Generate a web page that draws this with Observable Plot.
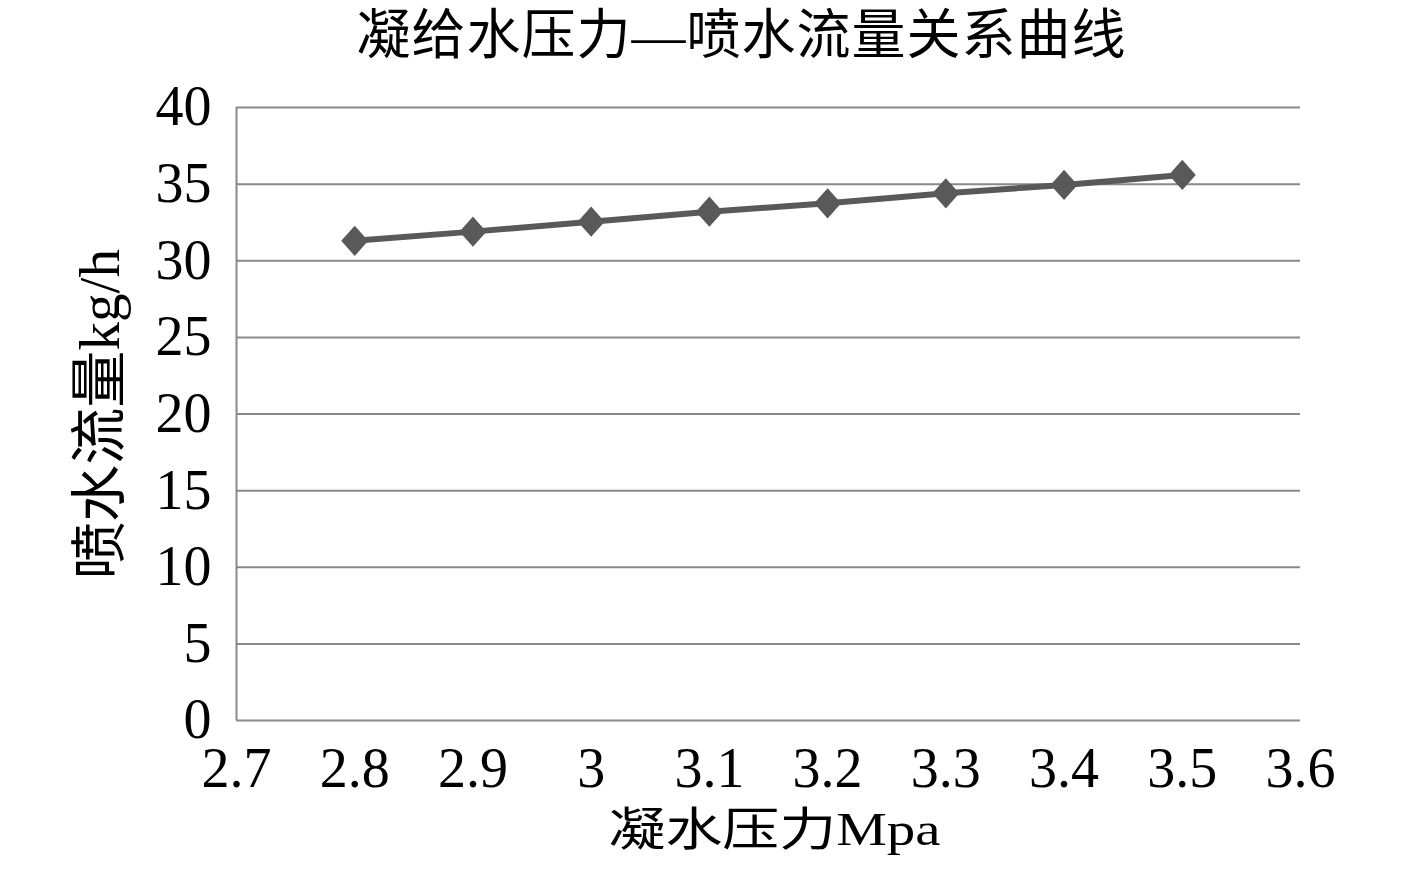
<!DOCTYPE html>
<html>
<head>
<meta charset="utf-8">
<script src="https://cdn.jsdelivr.net/npm/d3@7"></script>
<script src="https://cdn.jsdelivr.net/npm/@observablehq/plot@0.6"></script>
<style>
  html, body { margin: 0; padding: 0; background: #fff; }
  #wrap { position: relative; width: 1417px; height: 874px; overflow: hidden; }
  #title {
    position: absolute; left: 0; top: 2px; width: 1417px; height: 68px;
    box-sizing: border-box; padding-left: 66px;
    line-height: 68px; text-align: center; white-space: nowrap;
    font-family: "Liberation Serif", "Noto Sans CJK SC", serif; font-size: 54px; font-weight: 400;
    letter-spacing: 1px; color: #000;
  }
  #chart { position: absolute; left: 0; top: 70px; }
  #chart svg { display: block; }
</style>
</head>
<body>
<div id="wrap">
  <div id="title">凝给水压力—喷水流量关系曲线</div>
  <div id="chart"></div>
</div>
<script>
// Data
const pressure = [2.8, 2.9, 3.0, 3.1, 3.2, 3.3, 3.4, 3.5];          // 凝水压力 (Mpa)
const flow = [31.3, 31.9, 32.55, 33.2, 33.75, 34.4, 34.95, 35.6];  // 喷水流量 (kg/h)
const xTicks = [2.7, 2.8, 2.9, 3.0, 3.1, 3.2, 3.3, 3.4, 3.5, 3.6];
const xTickLabels = ["2.7", "2.8", "2.9", "3", "3.1", "3.2", "3.3", "3.4", "3.5", "3.6"];
const yTicks = [0, 5, 10, 15, 20, 25, 30, 35, 40];
const yTickLabels = ["0", "5", "10", "15", "20", "25", "30", "35", "40"];
const xLabel = "凝水压力Mpa";
const yLabel = "喷水流量kg/h";

const data = pressure.map((p, i) => ({p, f: flow[i]}));

const diamond = {
  draw(context, size) {
    const r = Math.sqrt(size / Math.PI);
    context.moveTo(0, -r * 1.12);
    context.lineTo(r, 0);
    context.lineTo(0, r * 1.12);
    context.lineTo(-r, 0);
    context.closePath();
  }
};

const gridColor = "#898989";
const ink = "#595959";

const plot = Plot.plot({
  width: 1417,
  height: 804,
  marginLeft: 236,
  marginRight: 117,
  marginTop: 37,
  marginBottom: 154,
  style: {
    fontFamily: "'Liberation Serif', 'Noto Sans CJK SC', serif",
    fontSize: "56px",
    color: "#000",
    background: "#fff",
    overflow: "visible"
  },
  x: {
    domain: [2.7, 3.6],
    ticks: xTicks,
    tickFormat: d => xTickLabels[xTicks.findIndex(t => Math.abs(t - d) < 1e-9)],
    tickSize: 0,
    tickPadding: 27,
    label: null
  },
  y: {
    domain: [0, 40],
    ticks: yTicks,
    tickFormat: d => yTickLabels[yTicks.indexOf(d)],
    tickSize: 0,
    tickPadding: 25,
    label: null
  },
  marks: [
    Plot.ruleY(yTicks, {stroke: gridColor, strokeWidth: 2}),
    Plot.ruleX([xTicks[0]], {stroke: gridColor, strokeWidth: 2}),
    Plot.line(data, {x: "p", y: "f", stroke: ink, strokeWidth: 6}),
    Plot.dot(data, {x: "p", y: "f", symbol: diamond, r: 13.5, fill: ink, stroke: "none"}),
    Plot.text([xLabel], {frameAnchor: "bottom", textAnchor: "middle", dx: 6, dy: 124, fontSize: 46, fill: "#000"}),
    Plot.text([yLabel], {frameAnchor: "left", textAnchor: "middle", dx: -136, rotate: -90, fontSize: 57, fill: "#000"})
  ]
});

// stretch the axis titles to the lengths seen in the reference
plot.querySelectorAll("text").forEach(t => {
  if (t.textContent === xLabel) {
    t.setAttribute("textLength", 332);
    t.setAttribute("lengthAdjust", "spacingAndGlyphs");
  } else if (t.textContent === yLabel) {
    t.setAttribute("textLength", 330);
    t.setAttribute("lengthAdjust", "spacingAndGlyphs");
  }
});

document.getElementById("chart").appendChild(plot);
</script>
</body>
</html>
